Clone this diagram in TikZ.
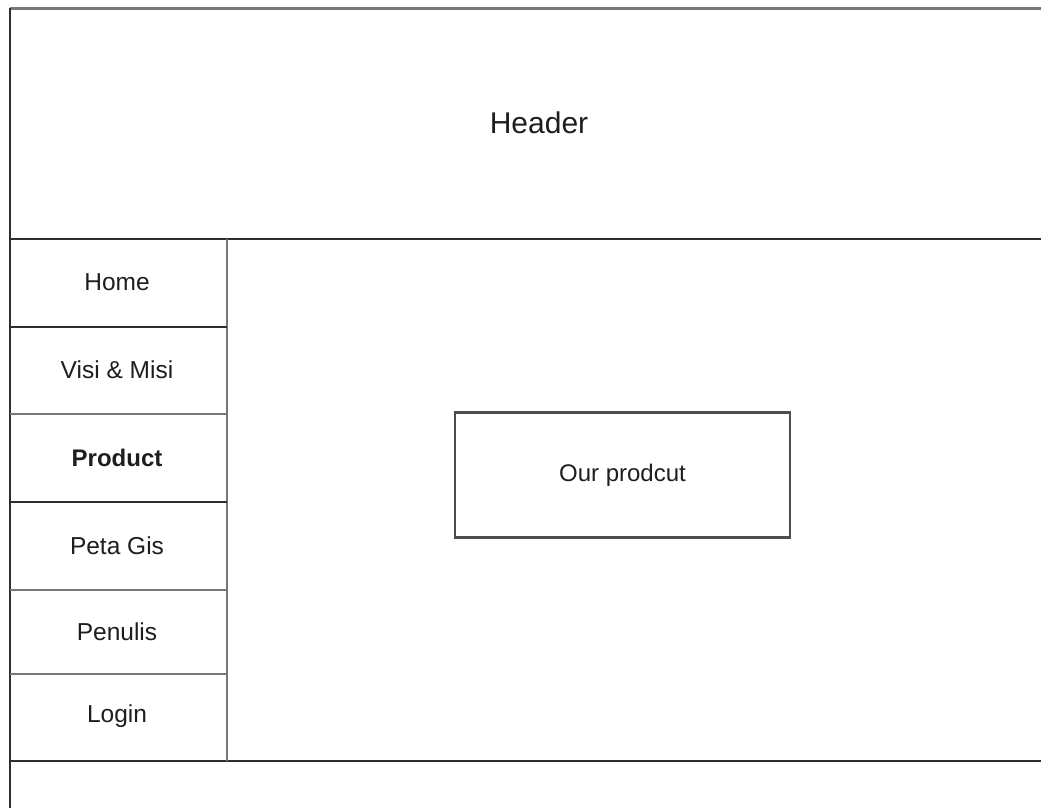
\documentclass[tikz,border=0pt]{standalone}
\usepackage{fontspec}
\setmainfont{Liberation Sans}
\definecolor{darkline}{HTML}{2E2E2E}
\definecolor{grayline}{HTML}{777777}
\definecolor{txt}{HTML}{1E1E1E}
\begin{document}
\begin{tikzpicture}[x=1pt,y=-1pt,
  dk/.style={draw=darkline,line width=2.4pt},
  gy/.style={draw=grayline,line width=2.8pt},
  menu/.style={font=\fontsize{24.5}{28}\selectfont,text=txt,inner sep=0pt},
  box/.style={draw=darkline!85,line width=2.4pt,minimum width=335pt,minimum height=125pt,font=\fontsize{24}{28}\selectfont,text=txt}]
\useasboundingbox (0,0) rectangle (1041,808);
\fill[white] (0,0) rectangle (1041,808);
% frame lines
\coordinate (tl) at (10,8.5);
\coordinate (tr) at (1041,8.5);
\coordinate (bl) at (10,808);
\coordinate (hl) at (10,239);
\coordinate (hr) at (1041,239);
\coordinate (fl) at (10,761);
\coordinate (fr) at (1041,761);
\coordinate (st) at (227,239);
\coordinate (sb) at (227,761);
\draw[gy] (tl) -- (tr);
\draw[dk] (hl) -- (hr);
\draw[dk] (fl) -- (fr);
\draw[gy] (st) -- (sb);
\draw[dk] (tl) -- (bl);
% menu separators
\coordinate (s1l) at (10,327); \coordinate (s1r) at (227,327);
\coordinate (s2l) at (10,414); \coordinate (s2r) at (227,414);
\coordinate (s3l) at (10,502); \coordinate (s3r) at (227,502);
\coordinate (s4l) at (10,590); \coordinate (s4r) at (227,590);
\coordinate (s5l) at (10,674); \coordinate (s5r) at (227,674);
\draw[dk] (s1l) -- (s1r);
\draw[gy] (s2l) -- (s2r);
\draw[dk] (s3l) -- (s3r);
\draw[gy] (s4l) -- (s4r);
\draw[gy] (s5l) -- (s5r);
% texts
\node[text=txt,font=\fontsize{30}{34}\selectfont] (header) at (539,123) {Header};
\node[menu] (home) at (117,282) {Home};
\node[menu] (visi) at (117,370) {Visi \& Misi};
\node[menu,font=\fontsize{24}{28}\selectfont\bfseries] (product) at (117,458) {Product};
\node[menu] (peta) at (117,546) {Peta Gis};
\node[menu] (penulis) at (117,632) {Penulis};
\node[menu] (login) at (117,716) {Login};
\node[box] (ourprod) at (622.5,475) {Our prodcut};
\end{tikzpicture}
\end{document}
